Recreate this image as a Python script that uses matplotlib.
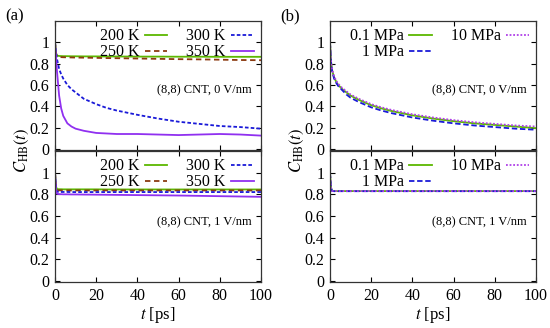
import matplotlib.pyplot as plt
import numpy as np

plt.rcParams['font.family'] = ['Liberation Serif', 'DejaVu Serif']
plt.rcParams['mathtext.fontset'] = 'stix'

t = [0, 0.5, 1, 2, 3, 4, 6, 8, 10, 14, 20, 25, 30, 40, 50, 60, 70, 80, 90, 100]

# (a) 0 V/nm, temperature series
a0_200 = [1.0, 0.90, 0.875, 0.872, 0.871, 0.870, 0.870, 0.869, 0.869, 0.868, 0.868, 0.867,
          0.867, 0.866, 0.866, 0.865, 0.865, 0.864, 0.864, 0.864]
a0_250 = [1.0, 0.89, 0.866, 0.862, 0.861, 0.860, 0.859, 0.858, 0.857, 0.856, 0.854, 0.852,
          0.851, 0.848, 0.845, 0.842, 0.840, 0.837, 0.834, 0.832]
a0_300 = [1.0, 0.90, 0.84, 0.75, 0.70, 0.66, 0.60, 0.56, 0.53, 0.47, 0.42, 0.385,
          0.36, 0.32, 0.285, 0.255, 0.235, 0.215, 0.205, 0.19]
a0_350 = [1.0, 0.85, 0.72, 0.50, 0.38, 0.31, 0.24, 0.21, 0.19, 0.17, 0.15, 0.145,
          0.14, 0.14, 0.135, 0.13, 0.135, 0.14, 0.135, 0.125]

# (a) 1 V/nm, temperature series
a1_200 = [1.0, 0.87, 0.848, 0.847, 0.847, 0.846, 0.846, 0.846, 0.846, 0.846, 0.846, 0.845,
          0.845, 0.845, 0.845, 0.845, 0.845, 0.845, 0.845, 0.845]
a1_250 = [1.0, 0.86, 0.838, 0.837, 0.837, 0.837, 0.836, 0.836, 0.836, 0.836, 0.836, 0.836,
          0.836, 0.836, 0.836, 0.836, 0.836, 0.836, 0.836, 0.836]
a1_300 = [1.0, 0.85, 0.824, 0.822, 0.822, 0.822, 0.822, 0.821, 0.821, 0.821, 0.821, 0.821,
          0.821, 0.821, 0.821, 0.821, 0.821, 0.821, 0.821, 0.821]
a1_350 = [1.0, 0.83, 0.805, 0.802, 0.801, 0.800, 0.800, 0.799, 0.799, 0.798, 0.797, 0.796,
          0.795, 0.793, 0.791, 0.789, 0.786, 0.783, 0.780, 0.777]

# (b) 0 V/nm, pressure series
b0_01 = [1.0, 0.82, 0.74, 0.67, 0.63, 0.60, 0.56, 0.53, 0.50, 0.46, 0.41, 0.38,
         0.355, 0.315, 0.285, 0.26, 0.24, 0.225, 0.21, 0.195]
b0_1 = [1.0, 0.81, 0.73, 0.66, 0.62, 0.59, 0.55, 0.51, 0.48, 0.44, 0.39, 0.36,
        0.335, 0.295, 0.265, 0.24, 0.22, 0.205, 0.19, 0.18]
b0_10 = [1.0, 0.82, 0.75, 0.68, 0.64, 0.61, 0.57, 0.54, 0.51, 0.47, 0.42, 0.39,
         0.365, 0.325, 0.295, 0.27, 0.25, 0.235, 0.22, 0.21]

# (b) 1 V/nm, pressure series
b1_01 = [1.0, 0.86, 0.832, 0.830, 0.830, 0.830, 0.830, 0.830, 0.830, 0.830, 0.830, 0.830,
         0.830, 0.830, 0.830, 0.830, 0.830, 0.830, 0.830, 0.830]
b1_1 = [1.0, 0.86, 0.831, 0.829, 0.829, 0.829, 0.829, 0.829, 0.829, 0.829, 0.829, 0.829,
        0.829, 0.829, 0.829, 0.829, 0.829, 0.829, 0.829, 0.829]
b1_10 = [1.0, 0.86, 0.832, 0.830, 0.830, 0.830, 0.830, 0.830, 0.830, 0.830, 0.830, 0.830,
         0.830, 0.830, 0.830, 0.830, 0.830, 0.830, 0.830, 0.830]

temp_labels = ['200 K', '250 K', '300 K', '350 K']
press_labels = ['0.1 MPa', '1 MPa', '10 MPa']

green = '#5cb800'
brown = '#8b3a10'
blue = '#1a1ad8'
purple = '#9030f0'
magenta = '#b040e8'

temp_styles = [dict(color=green, ls='-'),
               dict(color=brown, ls=(0, (3, 2))),
               dict(color=blue, ls=(0, (2, 1.2))),
               dict(color=purple, ls='-')]
press_styles = [dict(color=green, ls='-'),
                dict(color=blue, ls=(0, (3, 1.5))),
                dict(color=magenta, ls=(0, (1, 1)))]

fig = plt.figure(figsize=(5.5, 3.28), dpi=100)
x0s = [0.1, 0.6]
w = 0.3745
axs = {}
for col, x0 in enumerate(x0s):
    axs[(0, col)] = fig.add_axes([x0, 0.5427, w, 0.3933])
    axs[(1, col)] = fig.add_axes([x0, 0.140, w, 0.3996])


def style(ax, bottom):
    ax.set_xlim(0, 100)
    ax.set_ylim(-0.01, 1.2)
    ax.set_xticks([0, 20, 40, 60, 80, 100])
    ax.set_yticks([0, 0.2, 0.4, 0.6, 0.8, 1.0])
    ax.set_yticklabels(['0', '0.2', '0.4', '0.6', '0.8', '1'])
    ax.tick_params(direction='in', top=True, right=True, length=3.5, width=0.8,
                   labelsize=11.5, pad=4)
    if not bottom:
        ax.set_xticklabels([])
    for s in ax.spines.values():
        s.set_linewidth(0.9)
        s.set_color('#333333')


panels = [
    ((0, 0), [a0_200, a0_250, a0_300, a0_350], temp_labels, temp_styles, '(8,8) CNT, 0 V/nm'),
    ((1, 0), [a1_200, a1_250, a1_300, a1_350], temp_labels, temp_styles, '(8,8) CNT, 1 V/nm'),
    ((0, 1), [b0_01, b0_1, b0_10], press_labels, press_styles, '(8,8) CNT, 0 V/nm'),
    ((1, 1), [b1_01, b1_1, b1_10], press_labels, press_styles, '(8,8) CNT, 1 V/nm'),
]

for key, series, labels, styles, note in panels:
    ax = axs[key]
    for y, lab, st in zip(series, labels, styles):
        ax.plot(t, y, lw=1.3, label=lab, **st)
    style(ax, key[0] == 1)
    ax.text(0.955, 0.46, note, transform=ax.transAxes, ha='right', va='center', fontsize=9)
    ax.legend(loc='upper right', ncol=2, frameon=False, markerfirst=False, fontsize=11.5,
              handlelength=1.4, columnspacing=1.2, handletextpad=0.35, labelspacing=0.0,
              borderaxespad=0.1, borderpad=0.35)

for x0 in x0s:
    fig.text(x0 - 0.06, 0.54, '$C_{\\rm HB}(t)$', rotation=90, ha='center', va='center',
             fontsize=12)
    fig.text(x0 + w / 2, 0.04, '$t$ [ps]', ha='center', va='center', fontsize=12)

fig.text(0.01, 0.95, '(a)', fontsize=12, ha='left', va='center')
fig.text(0.51, 0.95, '(b)', fontsize=12, ha='left', va='center')

fig.savefig('out.png', dpi=100)
